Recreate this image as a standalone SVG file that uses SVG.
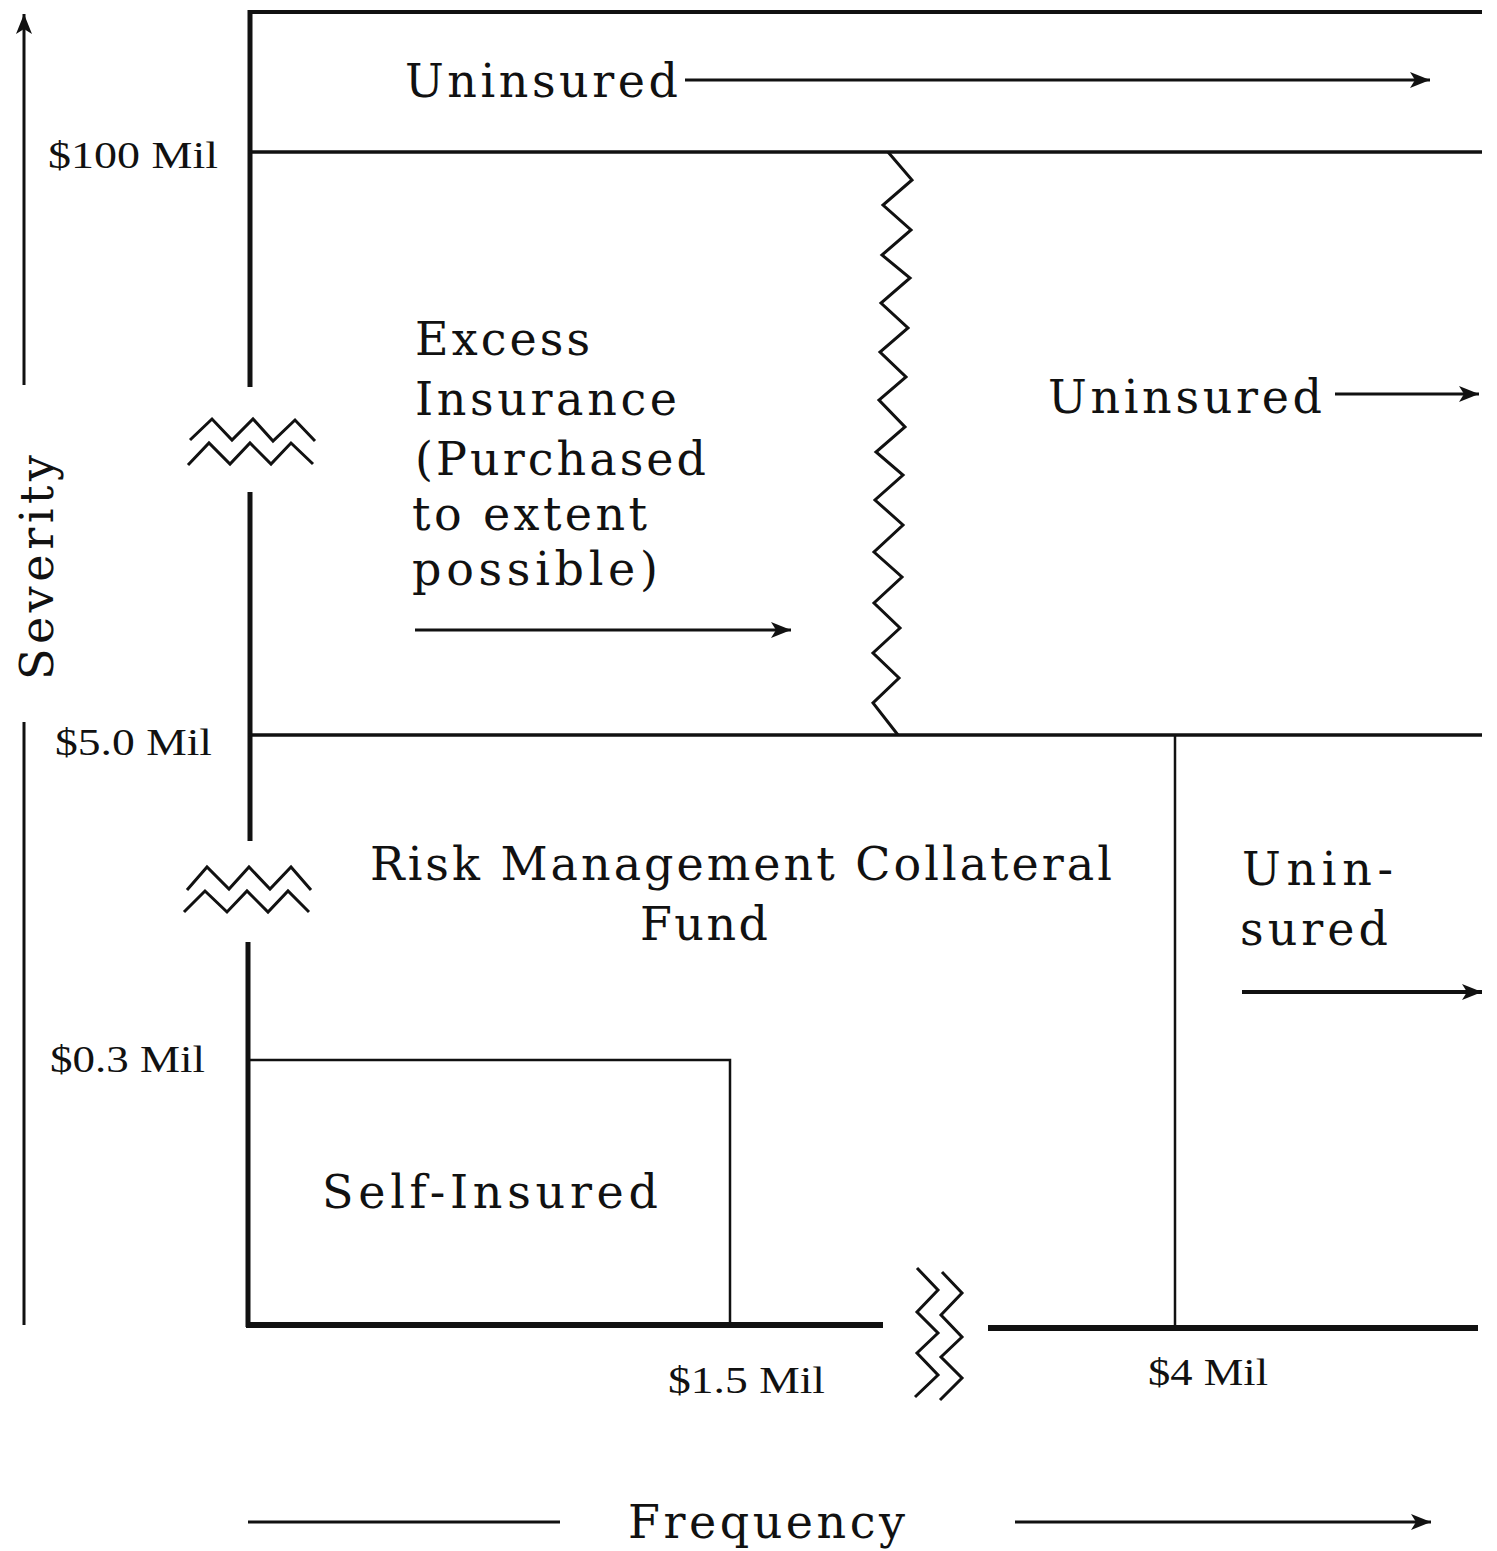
<svg xmlns="http://www.w3.org/2000/svg" width="1497" height="1551" viewBox="0 0 1497 1551">
<style>
.t{font-family:"DejaVu Serif","Liberation Serif",serif;font-size:46px;fill:#111}
.l{font-family:"Liberation Serif","DejaVu Serif",serif;font-size:38px;fill:#111}
.ln{stroke:#111;fill:none;stroke-linecap:butt}
.zz{stroke:#111;fill:none;stroke-width:3;stroke-linejoin:miter}
</style>
<defs>
<marker id="ah" markerUnits="userSpaceOnUse" markerWidth="22" markerHeight="18" refX="20" refY="9" orient="auto">
<path d="M0,1 L20,9 L0,17 L5,9 Z" fill="#111"/>
</marker>
</defs>
<rect width="1497" height="1551" fill="#fff"/>

<g id="axes">
<line class="ln" x1="24" y1="385" x2="24" y2="14" stroke-width="3" marker-end="url(#ah)"/>
<line class="ln" x1="24" y1="722" x2="24" y2="1325" stroke-width="3"/>
<text id="severity" class="t" font-size="44" transform="translate(53,680) rotate(-90)" textLength="225" lengthAdjust="spacing">Severity</text>
</g>

<g id="frame">
<line class="ln" x1="250" y1="10" x2="250" y2="387" stroke-width="5"/>
<line class="ln" x1="250" y1="492" x2="250" y2="841" stroke-width="5"/>
<line class="ln" x1="248" y1="942" x2="248" y2="1327" stroke-width="5"/>
<line class="ln" x1="248" y1="12" x2="1482" y2="12" stroke-width="4"/>
<line class="ln" x1="248" y1="152" x2="1482" y2="152" stroke-width="3.5"/>
<line class="ln" x1="248" y1="735" x2="1482" y2="735" stroke-width="3.5"/>
<line class="ln" x1="1175" y1="735" x2="1175" y2="1326" stroke-width="2.5"/>
<line class="ln" x1="246" y1="1325" x2="883" y2="1325" stroke-width="6"/>
<line class="ln" x1="988" y1="1328" x2="1478" y2="1328" stroke-width="6"/>
<polyline class="zz" points="888,152 912,180 883,205 911,230 882,255 910,278 881,303 908,328 880,352 906,377 879,400 905,427 876,452 903,475 875,500 903,525 874,552 902,577 874,603 900,628 873,653 899,678 873,703 898,735"/>
<polyline class="zz" points="190,440 212,419 232,440 253,419 273,441 295,420 315,441"/>
<polyline class="zz" points="188,465 209,443 230,464 250,443 271,464 291,443 313,464"/>
<polyline class="zz" points="187,890 207,867 229,889 249,867 270,889 291,867 311,890"/>
<polyline class="zz" points="184,912 205,891 227,912 247,891 268,912 288,891 309,912"/>
<polyline class="zz" points="917,1268 938,1290 917,1312 938,1333 917,1353 938,1375 915,1397"/>
<polyline class="zz" points="942,1272 962,1293 941,1315 962,1337 941,1357 962,1378 940,1400"/>
</g>

<g id="self-insured">
<polyline class="ln" points="250,1060 730,1060 730,1323" stroke-width="2.5"/>
<text class="t" x="322" y="1208" textLength="336" lengthAdjust="spacing">Self-Insured</text>
</g>

<g id="uninsured-top">
<text class="t" x="405" y="97" textLength="273" lengthAdjust="spacing">Uninsured</text>
</g>
<g id="uninsured-mid">
<text class="t" x="1048" y="413" textLength="274" lengthAdjust="spacing">Uninsured</text>
</g>
<g id="excess">
<text class="t" x="415" y="355" textLength="175" lengthAdjust="spacing">Excess</text>
<text class="t" x="415" y="415" textLength="262" lengthAdjust="spacing">Insurance</text>
<text class="t" x="415" y="475" textLength="291" lengthAdjust="spacing">(Purchased</text>
<text class="t" x="412" y="530" textLength="235" lengthAdjust="spacing">to extent</text>
<text class="t" x="412" y="585" textLength="246" lengthAdjust="spacing">possible)</text>
</g>
<g id="fund">
<text class="t" x="370" y="880" textLength="742" lengthAdjust="spacing">Risk Management Collateral</text>
<text class="t" x="640" y="940" textLength="128" lengthAdjust="spacing">Fund</text>
</g>
<g id="uninsured-right">
<text class="t" x="1242" y="885" textLength="151" lengthAdjust="spacing">Unin-</text>
<text class="t" x="1240" y="945" textLength="148" lengthAdjust="spacing">sured</text>
</g>

<g id="labels">
<text class="l" x="48" y="168" textLength="170" lengthAdjust="spacingAndGlyphs">$100 Mil</text>
<text class="l" x="55" y="755" textLength="157" lengthAdjust="spacingAndGlyphs">$5.0 Mil</text>
<text class="l" x="50" y="1072" textLength="155" lengthAdjust="spacingAndGlyphs">$0.3 Mil</text>
<text class="l" x="668" y="1393" textLength="157" lengthAdjust="spacingAndGlyphs">$1.5 Mil</text>
<text class="l" x="1148" y="1385" textLength="120" lengthAdjust="spacingAndGlyphs">$4 Mil</text>
<text class="t" x="628" y="1538" textLength="277" lengthAdjust="spacing">Frequency</text>
</g>

<g id="connectors">
<line class="ln" x1="685" y1="80" x2="1430" y2="80" stroke-width="3" marker-end="url(#ah)"/>
<line class="ln" x1="1335" y1="394" x2="1479" y2="394" stroke-width="3" marker-end="url(#ah)"/>
<line class="ln" x1="415" y1="630" x2="791" y2="630" stroke-width="3" marker-end="url(#ah)"/>
<line class="ln" x1="1242" y1="992" x2="1482" y2="992" stroke-width="4" marker-end="url(#ah)"/>
<line class="ln" x1="248" y1="1522" x2="560" y2="1522" stroke-width="3"/>
<line class="ln" x1="1015" y1="1522" x2="1431" y2="1522" stroke-width="3" marker-end="url(#ah)"/>
</g>
</svg>
